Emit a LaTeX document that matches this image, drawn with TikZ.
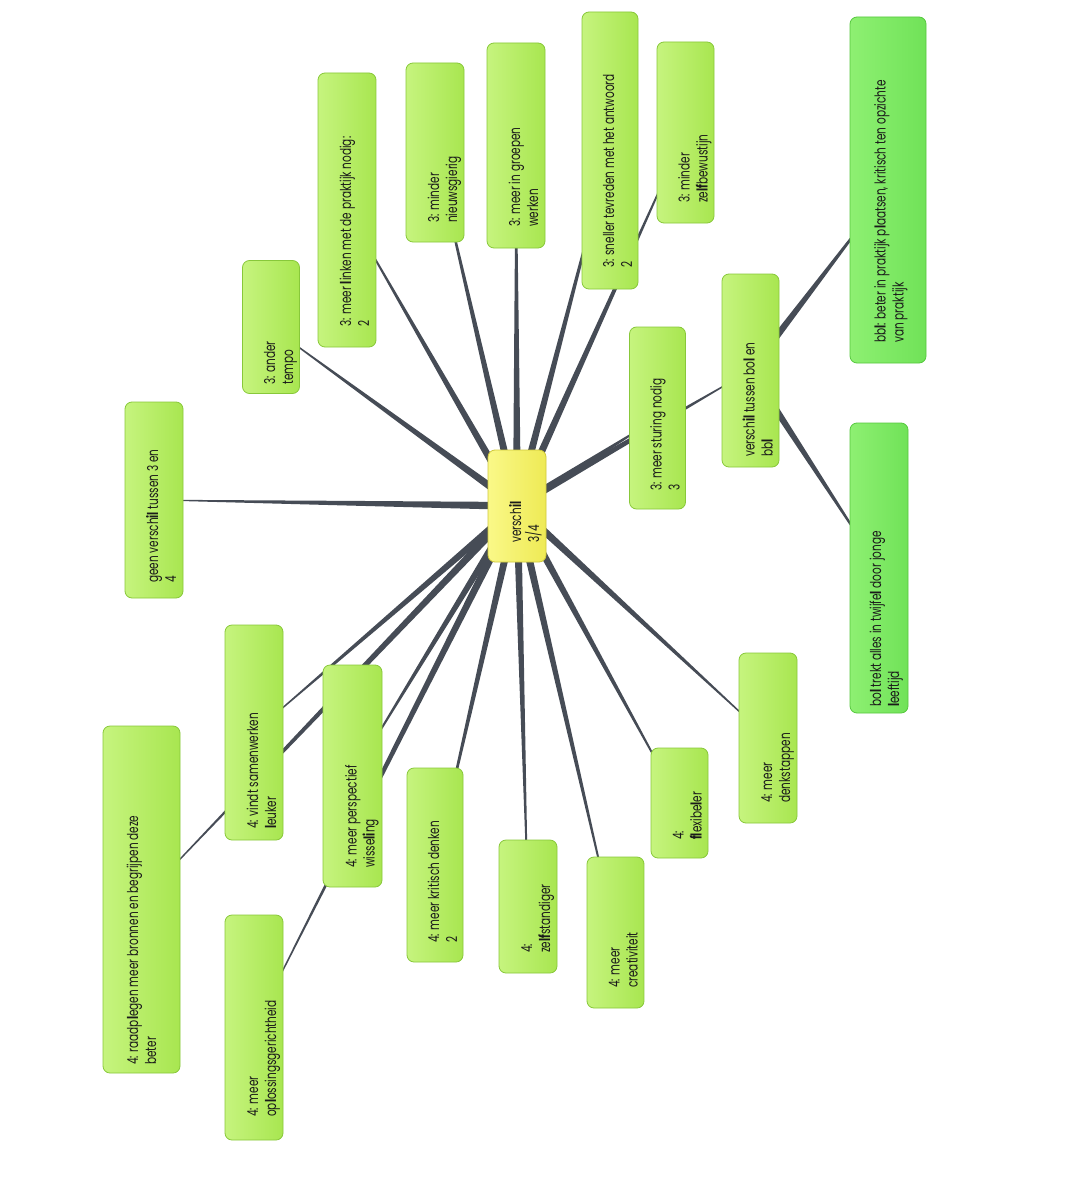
\documentclass[tikz,border=0pt]{standalone}
\usepackage{fontspec}
\setmainfont{Poppins}[FakeStretch=0.7]
\usetikzlibrary{calc,backgrounds}
\definecolor{linec}{HTML}{464C56}
\definecolor{glight}{HTML}{C6F47E}
\definecolor{gdark}{HTML}{A8E650}
\definecolor{gborder}{HTML}{88C83A}
\definecolor{blight}{HTML}{8EF072}
\definecolor{bdark}{HTML}{70E258}
\definecolor{bborder}{HTML}{56C83E}
\definecolor{ylight}{HTML}{FAF888}
\definecolor{ydark}{HTML}{EEEA55}
\definecolor{yborder}{HTML}{CFC83A}
\definecolor{textc}{HTML}{1A1A1A}
\newcommand\bl[1]{\textbf{#1}}
\newcommand\taper[2]{\fill[linec] ($(#1)!4pt!90:(#2)$) -- ($(#1)!0.5!(#2)!2.2pt!90:(#2)$) -- ($(#2)!0.3pt!-90:(#1)$) -- ($(#2)!0.3pt!90:(#1)$) -- ($(#1)!0.5!(#2)!2.2pt!-90:(#2)$) -- ($(#1)!4pt!-90:(#2)$) -- cycle;}
\tikzset{
  gbox/.style={draw=gborder, line width=0.8pt, rounded corners=7pt, left color=glight, right color=gdark, inner sep=0pt},
  brbox/.style={draw=bborder, line width=0.8pt, rounded corners=7pt, left color=blight, right color=bdark, inner sep=0pt},
  ybox/.style={draw=yborder, line width=0.8pt, rounded corners=7pt, left color=ylight, right color=ydark, inner sep=0pt},
  txt/.style={rotate=90, anchor=base west, align=left, inner sep=0pt, font=\fontsize{15}{18}\selectfont, text=textc},
}
\begin{document}
\begin{tikzpicture}[x=1pt,y=-1pt]
\useasboundingbox (0,0) rectangle (1072,1193);
% boxes
\node[ybox, minimum width=58, minimum height=112] (c) at (517,506) {};
\node[gbox, minimum width=58, minimum height=196] (geen) at (154,500) {};
\node[gbox, minimum width=57, minimum height=133] (ander) at (271,327) {};
\node[gbox, minimum width=58, minimum height=274] (linken) at (347,210) {};
\node[gbox, minimum width=58, minimum height=179] (nieuws) at (435,152.5) {};
\node[gbox, minimum width=58, minimum height=205] (groepen) at (516,145.5) {};
\node[gbox, minimum width=56, minimum height=277] (sneller) at (610,150.5) {};
\node[gbox, minimum width=57, minimum height=181] (zelfb) at (685.5,132.5) {};
\node[brbox, minimum width=76, minimum height=346] (bbl) at (888,190) {};
\node[gbox, minimum width=57, minimum height=193] (bolbbl) at (750.5,370.5) {};
\node[gbox, minimum width=56, minimum height=182] (sturing) at (657.5,418) {};
\node[brbox, minimum width=58, minimum height=290] (bol) at (879,568) {};
\node[gbox, minimum width=58, minimum height=170] (denk) at (768,738) {};
\node[gbox, minimum width=57, minimum height=110] (flex) at (679.5,803) {};
\node[gbox, minimum width=57, minimum height=151] (creat) at (615.5,932.5) {};
\node[gbox, minimum width=58, minimum height=133] (zelfst) at (528,906.5) {};
\node[gbox, minimum width=56, minimum height=194] (krit) at (435,865) {};
\node[gbox, minimum width=59, minimum height=222] (persp) at (352.5,776) {};
\node[gbox, minimum width=58, minimum height=215] (vindt) at (254,732.5) {};
\node[gbox, minimum width=77, minimum height=347] (raad) at (141.5,899.5) {};
\node[gbox, minimum width=58, minimum height=225] (oplos) at (254,1027.5) {};
% connectors
\begin{pgfonlayer}{background}
\fill[white] (0,0) rectangle (1072,1193);
\foreach \n in {geen,ander,linken,nieuws,groepen,sneller,zelfb,bolbbl,sturing,denk,flex,creat,zelfst,krit,persp,vindt,raad,oplos}{\taper{c}{\n}}
\taper{bolbbl}{bbl}
\taper{bolbbl}{bol}
\end{pgfonlayer}
% texts (anchor = baseline of the last line)
\node[txt] (tc) at (539,543) {versch\bl{il}\\3/4};
\node[txt] (tgeen) at (176,583) {geen versch\bl{il} tussen 3 en\\4};
\node[txt] (tander) at (293,385) {3: ander\\tempo};
\node[txt] (tlinken) at (369,327) {3: meer \bl{l}inken met de praktijk nodig:\\2};
\node[txt] (tnieuws) at (457,223) {3: minder\\nieuwsgierig};
\node[txt] (tgroepen) at (538,227) {3: meer in groepen\\werken};
\node[txt] (tsneller) at (632,268) {3: sneller tevreden met het antwoord\\2};
\node[txt] (tzelfb) at (707.5,203) {3: minder\\ze\bl{lf}bewustijn};
\node[txt] (tbbl) at (903.5,343) {bb\bl{l}: beter in praktijk p\bl{l}aatsen, kritisch ten opzichte\\van praktijk};
\node[txt] (tbolbbl) at (772.5,457) {versch\bl{il} tussen bo\bl{l} en\\bb\bl{l}};
\node[txt] (tsturing) at (679.5,491) {3: meer sturing nodig\\3};
\node[txt] (tbol) at (899,707) {bo\bl{l} trekt alles in twijfe\bl{l} door jonge\\\bl{l}eeftijd};
\node[txt] (tdenk) at (790,803) {4: meer\\denkstappen};
\node[txt] (tflex) at (701.5,840) {4:\\\bl{fl}exibe\bl{l}er};
\node[txt] (tcreat) at (637.5,988) {4: meer\\creativiteit};
\node[txt] (tzelfst) at (550,953) {4:\\ze\bl{lf}standiger};
\node[txt] (tkrit) at (457,943) {4: meer kritisch denken\\2};
\node[txt] (tpersp) at (374.5,868) {4: meer perspectief\\wisse\bl{li}ng};
\node[txt] (tvindt) at (276,829) {4: vindt samenwerken\\\bl{l}euker};
\node[txt] (traad) at (156,1065) {4: raadp\bl{l}egen meer bronnen en begrijpen deze\\beter};
\node[txt] (toplos) at (276,1117) {4: meer\\op\bl{l}ossingsgerichtheid};
\end{tikzpicture}
\end{document}
